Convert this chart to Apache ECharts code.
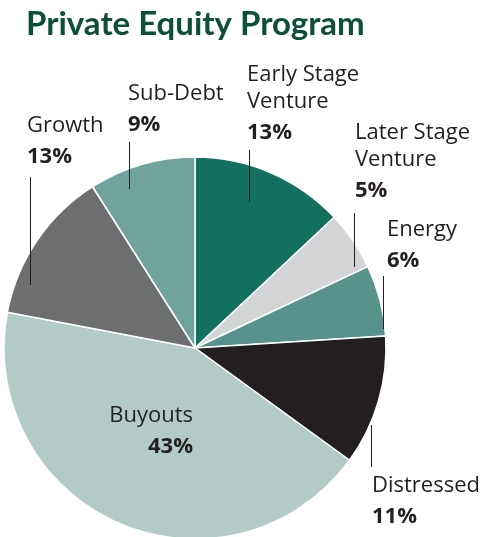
<!DOCTYPE html>
<html>
<head>
<meta charset="utf-8">
<script src="https://cdn.jsdelivr.net/npm/echarts@6/dist/echarts.min.js"></script>
<style>
  html, body { margin: 0; padding: 0; background: #fff; }
  #chart { width: 482px; height: 537px; }
</style>
</head>
<body>
<div id="chart"></div>
<script>
// slices, clockwise from 12 o'clock
const names = ['Early Stage\nVenture', 'Later Stage\nVenture', 'Energy', 'Distressed', 'Buyouts', 'Growth', 'Sub-Debt']
const shares = [13, 5, 6, 11, 43, 13, 9]
const colors = ['#137060', '#d3d4d6', '#57938a', '#231f20', '#b2cbc7', '#6d6e70', '#70a39b']

// label placement (left/top of text block) and vertical leader line [x, y1, y2]
const spots = [
  { x: 247, y: 61, line: [249, 150, 202] },
  { x: 355, y: 119, line: [354, 213, 267] },
  { x: 387, y: 216, line: [383, 276, 329] },
  { x: 372, y: 472, line: [371, 425, 467] },
  { x: 193, y: 402, align: 'right' },
  { x: 27, y: 112, line: [30, 177, 285] },
  { x: 128, y: 80, line: [129, 142, 189] }
]

const chart = echarts.init(document.getElementById('chart'))

// leader lines sit on top of the slices
const leaders = spots.filter(s => s.line).map(s => ({
  type: 'line',
  z: 100,
  shape: { x1: s.line[0] + 0.5, y1: s.line[1], x2: s.line[0] + 0.5, y2: s.line[2] },
  style: { stroke: '#231f20', lineWidth: 1 }
}))

chart.setOption({
  animation: false,
  title: {
    text: 'Private Equity Program',
    left: 21,
    top: 3,
    textStyle: {
      fontFamily: 'Lato',
      fontWeight: 'bold',
      fontSize: 33,
      color: '#0c4f3b'
    }
  },
  graphic: leaders,
  series: [{
    type: 'pie',
    center: [195, 348],
    radius: 191,
    startAngle: 90,
    clockwise: true,
    avoidLabelOverlap: false,
    itemStyle: { borderColor: '#fff', borderWidth: 1.5 },
    label: {
      show: true,
      position: 'outside',
      formatter: p => p.name.split('\n').map(s => '{n|' + s + '}').join('\n') + '\n{p|' + p.value + '%}',
      rich: {
        n: { fontFamily: 'Open Sans', fontSize: 22, lineHeight: 27, color: '#231f20' },
        p: { fontFamily: 'Open Sans', fontSize: 22, fontWeight: 'bold', lineHeight: 36, color: '#231f20' }
      }
    },
    labelLine: { show: false },
    labelLayout: params => {
      const s = spots[params.dataIndex]
      return { x: s.x, y: s.y, align: s.align || 'left', verticalAlign: 'top' }
    },
    data: names.map((n, i) => ({
      name: n,
      value: shares[i],
      itemStyle: { color: colors[i] }
    }))
  }]
})
</script>
</body>
</html>
